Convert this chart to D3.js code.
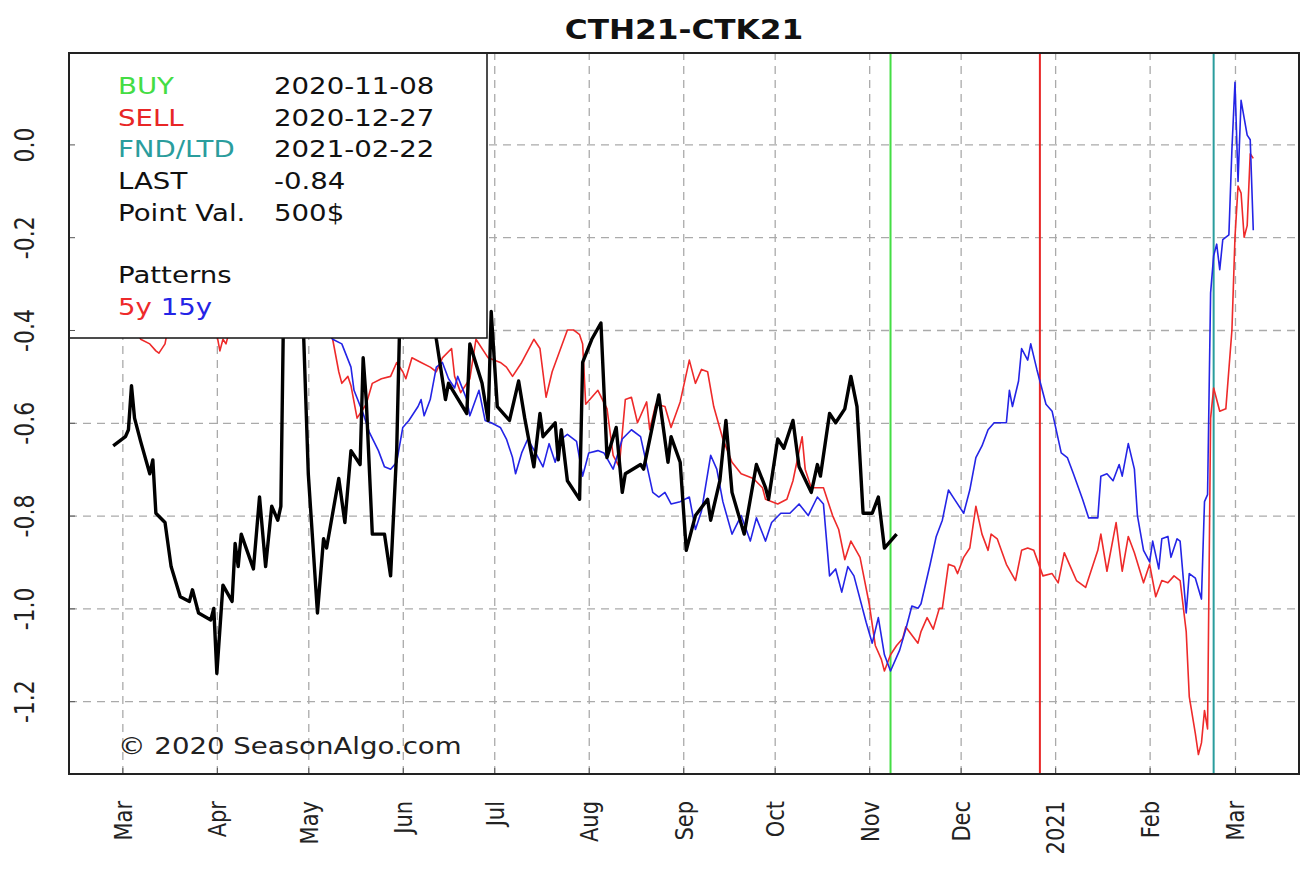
<!DOCTYPE html>
<html>
<head>
<meta charset="utf-8">
<title>CTH21-CTK21</title>
<script src="https://d3js.org/d3.v7.min.js"></script>
<style>
  body { margin: 0; background: #fff; }
  text { font-family: "DejaVu Sans", sans-serif; }
</style>
</head>
<body>
<svg id="chart" width="1312" height="872"></svg>
<script>
const chartTitle = "CTH21-CTK21";

// actual spread (black)
const actual = [
  ["2020-02-27",-0.65],["2020-03-02",-0.63],["2020-03-03",-0.615],["2020-03-04",-0.52],["2020-03-05",-0.59],
  ["2020-03-07",-0.64],["2020-03-10",-0.71],["2020-03-11",-0.68],["2020-03-12",-0.795],["2020-03-15",-0.815],
  ["2020-03-17",-0.91],["2020-03-20",-0.975],["2020-03-23",-0.985],["2020-03-24",-0.96],["2020-03-26",-1.01],
  ["2020-03-30",-1.025],["2020-03-31",-1.0],["2020-04-01",-1.14],["2020-04-03",-0.95],["2020-04-06",-0.985],
  ["2020-04-07",-0.86],["2020-04-08",-0.91],["2020-04-09",-0.84],["2020-04-13",-0.915],["2020-04-15",-0.76],
  ["2020-04-17",-0.91],["2020-04-19",-0.78],["2020-04-21",-0.81],["2020-04-22",-0.78],["2020-04-23",-0.30],
  ["2020-04-26",-0.22],["2020-04-29",-0.32],["2020-05-01",-0.71],["2020-05-04",-1.01],["2020-05-06",-0.85],
  ["2020-05-07",-0.87],["2020-05-11",-0.72],["2020-05-13",-0.815],["2020-05-15",-0.66],["2020-05-18",-0.69],
  ["2020-05-19",-0.46],["2020-05-20",-0.55],["2020-05-22",-0.84],["2020-05-26",-0.84],["2020-05-28",-0.93],
  ["2020-05-30",-0.66],["2020-05-31",-0.38],["2020-06-03",-0.28],["2020-06-07",-0.24],["2020-06-10",-0.30],
  ["2020-06-12",-0.42],["2020-06-15",-0.55],["2020-06-16",-0.515],["2020-06-22",-0.58],["2020-06-23",-0.43],
  ["2020-06-27",-0.515],["2020-06-29",-0.595],["2020-06-30",-0.36],["2020-07-02",-0.565],["2020-07-06",-0.595],
  ["2020-07-09",-0.51],["2020-07-11",-0.59],["2020-07-14",-0.695],["2020-07-16",-0.58],["2020-07-17",-0.63],
  ["2020-07-21",-0.60],["2020-07-22",-0.68],["2020-07-23",-0.615],["2020-07-25",-0.725],["2020-07-29",-0.765],
  ["2020-07-30",-0.47],["2020-08-02",-0.42],["2020-08-05",-0.385],["2020-08-07",-0.675],["2020-08-10",-0.61],
  ["2020-08-12",-0.75],["2020-08-13",-0.71],["2020-08-18",-0.69],["2020-08-19",-0.70],["2020-08-24",-0.54],
  ["2020-08-27",-0.685],["2020-08-28",-0.63],["2020-08-31",-0.685],["2020-09-02",-0.875],["2020-09-05",-0.80],
  ["2020-09-09",-0.765],["2020-09-10",-0.81],["2020-09-13",-0.725],["2020-09-15",-0.595],["2020-09-17",-0.75],
  ["2020-09-21",-0.84],["2020-09-25",-0.69],["2020-09-28",-0.74],["2020-09-29",-0.765],["2020-10-02",-0.635],
  ["2020-10-04",-0.655],["2020-10-07",-0.595],["2020-10-09",-0.695],["2020-10-13",-0.75],["2020-10-15",-0.69],
  ["2020-10-16",-0.715],["2020-10-19",-0.58],["2020-10-21",-0.60],["2020-10-24",-0.57],["2020-10-26",-0.50],
  ["2020-10-28",-0.565],["2020-10-29",-0.68],["2020-10-30",-0.795],["2020-11-02",-0.795],["2020-11-04",-0.76],
  ["2020-11-06",-0.87],["2020-11-08",-0.855],["2020-11-10",-0.84]
];

// 5 year pattern (red)
const fiveYear = [
  ["2020-02-13",-0.30],["2020-02-20",-0.28],["2020-02-27",-0.33],["2020-03-04",-0.38],["2020-03-07",-0.42],
  ["2020-03-10",-0.43],["2020-03-12",-0.445],["2020-03-13",-0.45],["2020-03-15",-0.43],["2020-03-17",-0.36],
  ["2020-03-22",-0.30],["2020-03-28",-0.35],["2020-04-01",-0.41],["2020-04-02",-0.445],["2020-04-03",-0.42],
  ["2020-04-04",-0.43],["2020-04-06",-0.38],["2020-04-12",-0.30],["2020-04-20",-0.28],["2020-04-28",-0.32],
  ["2020-05-05",-0.38],["2020-05-09",-0.42],["2020-05-11",-0.49],["2020-05-12",-0.515],["2020-05-14",-0.50],
  ["2020-05-15",-0.52],["2020-05-17",-0.59],["2020-05-20",-0.56],["2020-05-22",-0.515],["2020-05-25",-0.505],
  ["2020-05-28",-0.50],["2020-05-30",-0.47],["2020-06-01",-0.49],["2020-06-02",-0.505],["2020-06-04",-0.46],
  ["2020-06-07",-0.47],["2020-06-10",-0.48],["2020-06-12",-0.49],["2020-06-14",-0.46],["2020-06-17",-0.44],
  ["2020-06-18",-0.50],["2020-06-20",-0.535],["2020-06-23",-0.505],["2020-06-25",-0.42],["2020-06-29",-0.46],
  ["2020-07-03",-0.47],["2020-07-05",-0.48],["2020-07-07",-0.50],["2020-07-10",-0.47],["2020-07-14",-0.42],
  ["2020-07-16",-0.44],["2020-07-18",-0.545],["2020-07-20",-0.49],["2020-07-25",-0.40],["2020-07-27",-0.40],
  ["2020-07-29",-0.41],["2020-07-30",-0.43],["2020-07-31",-0.56],["2020-08-04",-0.53],["2020-08-07",-0.57],
  ["2020-08-09",-0.67],["2020-08-11",-0.695],["2020-08-13",-0.55],["2020-08-15",-0.545],["2020-08-17",-0.60],
  ["2020-08-20",-0.555],["2020-08-21",-0.615],["2020-08-23",-0.56],["2020-08-26",-0.565],["2020-08-28",-0.61],
  ["2020-08-31",-0.555],["2020-09-03",-0.465],["2020-09-05",-0.515],["2020-09-07",-0.485],["2020-09-09",-0.49],
  ["2020-09-11",-0.565],["2020-09-14",-0.635],["2020-09-17",-0.685],["2020-09-20",-0.71],["2020-09-24",-0.72],
  ["2020-09-27",-0.74],["2020-09-28",-0.765],["2020-10-02",-0.775],["2020-10-05",-0.765],["2020-10-07",-0.725],
  ["2020-10-10",-0.63],["2020-10-11",-0.70],["2020-10-13",-0.74],["2020-10-17",-0.74],["2020-10-20",-0.80],
  ["2020-10-22",-0.83],["2020-10-24",-0.895],["2020-10-26",-0.855],["2020-10-29",-0.89],["2020-11-01",-0.99],
  ["2020-11-03",-1.08],["2020-11-05",-1.11],["2020-11-06",-1.135],["2020-11-08",-1.10],["2020-11-10",-1.08],
  ["2020-11-12",-1.065],["2020-11-13",-1.04],["2020-11-17",-1.075],["2020-11-18",-1.05],["2020-11-20",-1.02],
  ["2020-11-22",-1.045],["2020-11-24",-1.00],["2020-11-25",-1.00],["2020-11-27",-0.905],["2020-11-29",-0.91],
  ["2020-11-30",-0.925],["2020-12-02",-0.89],["2020-12-04",-0.87],["2020-12-06",-0.78],["2020-12-08",-0.84],
  ["2020-12-10",-0.875],["2020-12-11",-0.84],["2020-12-13",-0.85],["2020-12-16",-0.905],["2020-12-19",-0.94],
  ["2020-12-21",-0.875],["2020-12-23",-0.87],["2020-12-25",-0.875],["2020-12-28",-0.93],["2020-12-31",-0.925],
  ["2021-01-02",-0.945],["2021-01-04",-0.88],["2021-01-06",-0.91],["2021-01-08",-0.94],["2021-01-11",-0.955],
  ["2021-01-15",-0.875],["2021-01-16",-0.84],["2021-01-18",-0.92],["2021-01-21",-0.815],["2021-01-23",-0.92],
  ["2021-01-25",-0.845],["2021-01-27",-0.88],["2021-01-30",-0.945],["2021-02-01",-0.905],["2021-02-03",-0.975],
  ["2021-02-05",-0.94],["2021-02-07",-0.945],["2021-02-09",-0.93],["2021-02-11",-0.94],["2021-02-13",-1.05],
  ["2021-02-14",-1.19],["2021-02-16",-1.27],["2021-02-17",-1.315],["2021-02-18",-1.29],["2021-02-19",-1.22],
  ["2021-02-20",-1.26],["2021-02-21",-0.59],["2021-02-22",-0.525],["2021-02-24",-0.575],["2021-02-26",-0.57],
  ["2021-02-28",-0.40],["2021-03-01",-0.20],["2021-03-02",-0.09],["2021-03-03",-0.105],["2021-03-04",-0.20],
  ["2021-03-05",-0.175],["2021-03-06",-0.02],["2021-03-07",-0.03]
];

// 15 year pattern (blue)
const fifteenYear = [
  ["2020-02-13",-0.30],["2020-02-25",-0.28],["2020-03-10",-0.25],["2020-03-25",-0.20],["2020-04-10",-0.22],
  ["2020-04-25",-0.30],["2020-05-05",-0.38],["2020-05-09",-0.42],["2020-05-12",-0.43],["2020-05-15",-0.48],
  ["2020-05-16",-0.53],["2020-05-19",-0.58],["2020-05-21",-0.62],["2020-05-24",-0.66],["2020-05-26",-0.695],
  ["2020-05-28",-0.70],["2020-05-30",-0.685],["2020-06-01",-0.61],["2020-06-03",-0.595],["2020-06-06",-0.565],
  ["2020-06-07",-0.55],["2020-06-08",-0.585],["2020-06-10",-0.55],["2020-06-12",-0.48],["2020-06-14",-0.47],
  ["2020-06-16",-0.505],["2020-06-18",-0.525],["2020-06-19",-0.50],["2020-06-22",-0.55],["2020-06-23",-0.585],
  ["2020-06-26",-0.53],["2020-06-28",-0.595],["2020-06-30",-0.60],["2020-07-03",-0.61],["2020-07-05",-0.635],
  ["2020-07-07",-0.675],["2020-07-08",-0.71],["2020-07-10",-0.665],["2020-07-12",-0.635],["2020-07-15",-0.67],
  ["2020-07-17",-0.695],["2020-07-19",-0.645],["2020-07-21",-0.685],["2020-07-23",-0.635],["2020-07-25",-0.625],
  ["2020-07-28",-0.64],["2020-07-30",-0.715],["2020-08-01",-0.665],["2020-08-04",-0.66],["2020-08-06",-0.665],
  ["2020-08-09",-0.70],["2020-08-12",-0.635],["2020-08-15",-0.615],["2020-08-18",-0.63],["2020-08-22",-0.75],
  ["2020-08-24",-0.76],["2020-08-26",-0.75],["2020-08-28",-0.775],["2020-08-31",-0.77],["2020-09-03",-0.76],
  ["2020-09-05",-0.83],["2020-09-07",-0.79],["2020-09-10",-0.67],["2020-09-12",-0.70],["2020-09-14",-0.77],
  ["2020-09-17",-0.84],["2020-09-20",-0.80],["2020-09-23",-0.855],["2020-09-25",-0.805],["2020-09-28",-0.855],
  ["2020-09-30",-0.815],["2020-10-03",-0.795],["2020-10-06",-0.795],["2020-10-09",-0.775],["2020-10-12",-0.80],
  ["2020-10-15",-0.76],["2020-10-17",-0.775],["2020-10-19",-0.93],["2020-10-21",-0.915],["2020-10-23",-0.965],
  ["2020-10-25",-0.91],["2020-10-27",-0.93],["2020-10-31",-1.03],["2020-11-02",-1.075],["2020-11-04",-1.02],
  ["2020-11-06",-1.10],["2020-11-08",-1.135],["2020-11-11",-1.09],["2020-11-13",-1.045],["2020-11-15",-0.995],
  ["2020-11-17",-1.00],["2020-11-18",-0.99],["2020-11-21",-0.905],["2020-11-23",-0.845],["2020-11-25",-0.81],
  ["2020-11-27",-0.745],["2020-11-29",-0.765],["2020-12-02",-0.795],["2020-12-04",-0.745],["2020-12-06",-0.675],
  ["2020-12-08",-0.65],["2020-12-10",-0.615],["2020-12-12",-0.60],["2020-12-16",-0.60],["2020-12-17",-0.53],
  ["2020-12-18",-0.565],["2020-12-20",-0.51],["2020-12-21",-0.44],["2020-12-23",-0.465],["2020-12-24",-0.43],
  ["2020-12-26",-0.485],["2020-12-29",-0.56],["2020-12-31",-0.575],["2021-01-03",-0.665],["2021-01-05",-0.675],
  ["2021-01-07",-0.71],["2021-01-10",-0.765],["2021-01-12",-0.805],["2021-01-15",-0.805],["2021-01-16",-0.715],
  ["2021-01-18",-0.71],["2021-01-20",-0.725],["2021-01-22",-0.69],["2021-01-23",-0.715],["2021-01-25",-0.645],
  ["2021-01-27",-0.70],["2021-01-28",-0.80],["2021-01-30",-0.875],["2021-02-01",-0.90],["2021-02-02",-0.855],
  ["2021-02-04",-0.915],["2021-02-05",-0.85],["2021-02-07",-0.845],["2021-02-08",-0.89],["2021-02-10",-0.85],
  ["2021-02-11",-0.855],["2021-02-13",-1.01],["2021-02-14",-0.925],["2021-02-16",-0.935],["2021-02-18",-0.98],
  ["2021-02-19",-0.77],["2021-02-20",-0.755],["2021-02-21",-0.32],["2021-02-22",-0.24],["2021-02-23",-0.215],
  ["2021-02-24",-0.27],["2021-02-25",-0.205],["2021-02-27",-0.195],["2021-02-28",-0.01],["2021-03-01",0.134],
  ["2021-03-02",-0.08],["2021-03-03",0.095],["2021-03-04",0.057],["2021-03-05",0.02],["2021-03-06",0.01],
  ["2021-03-07",-0.185]
];

const events = [["BUY","2020-11-08"],["SELL","2020-12-27"],["FND/LTD","2021-02-22"]];
const infoRows = [["BUY","2020-11-08"],["SELL","2020-12-27"],["FND/LTD","2021-02-22"],["LAST","-0.84"],["Point Val.","500$"]];
const monthTicks = ["2020-03-01","2020-04-01","2020-05-01","2020-06-01","2020-07-01","2020-08-01","2020-09-01",
  "2020-10-01","2020-11-01","2020-12-01","2021-01-01","2021-02-01","2021-03-01"];
const monthLabels = ["Mar","Apr","May","Jun","Jul","Aug","Sep","Oct","Nov","Dec","2021","Feb","Mar"];
const yTicks = [0, -0.2, -0.4, -0.6, -0.8, -1.0, -1.2];
const copyright = "\u00a9 2020 SeasonAlgo.com";

const colors = { BUY: "#44dd44", SELL: "#e82626", "FND/LTD": "#2a9d9d", LAST: "#111", "Point Val.": "#111",
  five: "#ee2a2a", fifteen: "#2424e6", actual: "#000" };

const parse = d3.timeParse("%Y-%m-%d");
const pLeft = 69, pRight = 1299, pTop = 53, pBottom = 774;
const stretch = 1.2; // the source picture is wider than its fonts

const svg = d3.select("#chart");

const x = d3.scaleTime()
  .domain([new Date(2020, 1, 12, 12), new Date(2021, 2, 22)])
  .range([pLeft, pRight]);
const y = d3.scaleLinear().domain([-1.357, 0.197]).range([pBottom, pTop]);

const tickDates = monthTicks.map(parse);

function label(g, tx, ty, size) {
  return g.append("text")
    .attr("transform", `translate(${tx},${ty}) scale(${stretch},1)`)
    .attr("dy", "0.35em").attr("font-size", size);
}

// title
label(svg, (pLeft + pRight) / 2, 30, 26)
  .attr("text-anchor", "middle").attr("font-weight", "bold").attr("fill", "#111")
  .text(chartTitle);

// grid
svg.append("g")
  .attr("transform", `translate(0,${pBottom})`)
  .call(d3.axisBottom(x).tickValues(tickDates).tickSize(-(pBottom - pTop)).tickFormat(""))
  .call(g => g.select(".domain").remove())
  .call(g => g.selectAll("line").attr("stroke", "#aaa").attr("stroke-width", 1.3).attr("stroke-dasharray", "8,6"));

svg.append("g")
  .attr("transform", `translate(${pLeft},0)`)
  .call(d3.axisLeft(y).tickValues(yTicks).tickSize(-(pRight - pLeft)).tickFormat(""))
  .call(g => g.select(".domain").remove())
  .call(g => g.selectAll("line").attr("stroke", "#aaa").attr("stroke-width", 1.3).attr("stroke-dasharray", "8,6"));

// event lines
svg.append("g").selectAll("line").data(events).join("line")
  .attr("x1", d => x(parse(d[1]))).attr("x2", d => x(parse(d[1])))
  .attr("y1", pTop).attr("y2", pBottom)
  .attr("stroke", d => colors[d[0]]).attr("stroke-width", 2);

// series
const line = d3.line().x(d => x(parse(d[0]))).y(d => y(d[1]));
const plot = svg.append("g");
plot.append("path").datum(fiveYear).attr("d", line)
  .attr("fill", "none").attr("stroke", colors.five).attr("stroke-width", 1.6).attr("stroke-linejoin", "round");
plot.append("path").datum(fifteenYear).attr("d", line)
  .attr("fill", "none").attr("stroke", colors.fifteen).attr("stroke-width", 1.6).attr("stroke-linejoin", "round");
plot.append("path").datum(actual).attr("d", line)
  .attr("fill", "none").attr("stroke", colors.actual).attr("stroke-width", 3.4).attr("stroke-linejoin", "round");

// info box
const box = svg.append("g");
box.append("rect")
  .attr("x", pLeft).attr("y", pTop).attr("width", 487 - pLeft).attr("height", 338 - pTop)
  .attr("fill", "#fff").attr("stroke", "#111").attr("stroke-width", 1.5);

infoRows.forEach((r, i) => {
  label(box, 118, 86 + i * 31.7, 23).attr("fill", colors[r[0]]).text(r[0]);
  label(box, 274, 86 + i * 31.7, 23).attr("fill", "#111").text(r[1]);
});
label(box, 118, 275, 23).attr("fill", "#111").text("Patterns");
const pat = label(box, 118, 307, 23);
pat.append("tspan").attr("fill", colors.five).text("5y");
pat.append("tspan").attr("fill", colors.fifteen).text(" 15y");

// copyright
label(svg, 118, 746, 23).attr("fill", "#222").text(copyright);

// axes
const xAxis = svg.append("g")
  .attr("transform", `translate(0,${pBottom})`)
  .call(d3.axisBottom(x).tickValues(tickDates).tickSize(6).tickFormat((d, i) => monthLabels[i]));
xAxis.select(".domain").remove();
xAxis.selectAll(".tick line").attr("y2", -6).attr("stroke", "#555");
xAxis.selectAll(".tick text")
  .attr("transform", `scale(${stretch},1) rotate(-90)`)
  .attr("x", -27).attr("y", 0).attr("dy", "0.35em")
  .attr("text-anchor", "end")
  .attr("font-size", 21).attr("fill", "#222");

const yAxis = svg.append("g")
  .attr("transform", `translate(${pLeft},0)`)
  .call(d3.axisLeft(y).tickValues(yTicks).tickSize(6).tickFormat(d => d.toFixed(1)));
yAxis.select(".domain").remove();
yAxis.selectAll(".tick line").attr("x2", 6).attr("stroke", "#555");
yAxis.selectAll(".tick text")
  .attr("transform", `scale(${stretch},1) rotate(-90)`)
  .attr("x", 0).attr("y", -44 / stretch).attr("dy", "0.35em")
  .attr("text-anchor", "middle")
  .attr("font-size", 22).attr("fill", "#222");

// frame
svg.append("rect")
  .attr("x", pLeft).attr("y", pTop).attr("width", pRight - pLeft).attr("height", pBottom - pTop)
  .attr("fill", "none").attr("stroke", "#222").attr("stroke-width", 2);
</script>
</body>
</html>
